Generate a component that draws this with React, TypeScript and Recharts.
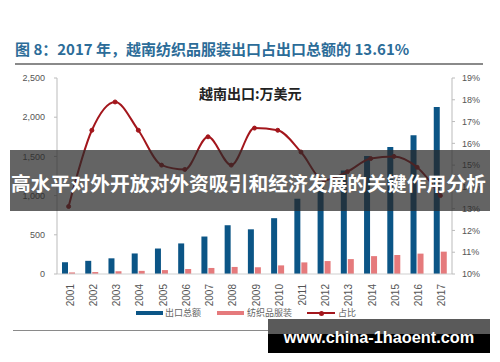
import React from 'react';
import { ComposedChart, Bar, Line, XAxis, YAxis } from 'recharts';

const years = ['2001','2002','2003','2004','2005','2006','2007','2008','2009','2010','2011','2012','2013','2014','2015','2016','2017'];
const totalExports = [150, 168, 200, 262, 325, 390, 478, 622, 570, 712, 960, 1145, 1320, 1505, 1620, 1770, 2130];
const textileExports = [20, 25, 35, 40, 50, 64, 77, 90, 86, 110, 148, 165, 190, 228, 242, 260, 285];
const shareRatio = [13.1, 16.6, 17.9, 16.6, 15.0, 14.8, 16.3, 15.0, 16.7, 16.6, 15.6, 14.3, 14.7, 15.3, 15.4, 14.9, 13.6];
const leftTicks = [0, 500, 1000, 1500, 2000, 2500];
const rightTicks = [10, 11, 12, 13, 14, 15, 16, 17, 18, 19];

const data = years.map((y, i) => ({ year: y, total: totalExports[i], textile: textileExports[i], ratio: shareRatio[i] }));

const BLUE = '#0b5586';
const PINK = '#e57a7c';
const RED = '#a3161c';
const SANS = '"Liberation Sans", Arial, sans-serif';
const CJK = '"Noto Sans CJK SC", "Noto Sans", sans-serif';

const XTick = (props: any) => {
  const { x, y, payload } = props;
  return (
    <text
      x={0}
      y={0}
      transform={`translate(${x + 1.5},${y + 2}) rotate(-90)`}
      textAnchor="end"
      dy="0.35em"
      fontSize={10}
      fill="#555"
      fontFamily={SANS}
    >
      {payload.value}
    </text>
  );
};

const fmtComma = (v: number) => v.toLocaleString('en-US');

export default function App() {
  return (
    <div style={{ position: 'absolute', left: 0, top: 0, width: 500, height: 362, background: '#fff', overflow: 'hidden' }}>
      <div style={{ position: 'absolute', left: 15, top: 38, fontFamily: CJK, fontWeight: 700, fontSize: 15, color: '#2c6c98', whiteSpace: 'nowrap', lineHeight: '22px' }}>
        图 8：2017 年，越南纺织品服装出口占出口总额的 13.61%
      </div>
      <div style={{ position: 'absolute', left: 15, top: 63, width: 468, height: 1.5, background: '#8a8a8a' }} />
      <ComposedChart
        width={500}
        height={362}
        data={data}
        margin={{ top: 78, right: 0, bottom: 58, left: 0 }}
        barGap={1}
        style={{ position: 'absolute', left: 0, top: 0 }}
      >
        <XAxis
          dataKey="year"
          height={30}
          interval={0}
          tick={<XTick />}
          tickLine={false}
          axisLine={{ stroke: '#cfcfcf' }}
        />
        <YAxis
          yAxisId="left"
          width={57}
          domain={[0, 2500]}
          ticks={leftTicks}
          tickFormatter={fmtComma}
          tick={{ fontSize: 9, fill: '#555', fontFamily: SANS }}
          tickSize={3}
          tickMargin={9}
          axisLine={{ stroke: '#bbb' }}
          tickLine={{ stroke: '#bbb' }}
        />
        <YAxis
          yAxisId="right"
          orientation="right"
          width={48}
          domain={[10, 19]}
          ticks={rightTicks}
          tickFormatter={(v: number) => `${v}%`}
          tick={{ fontSize: 9, fill: '#555', fontFamily: SANS, textAnchor: 'start' }}
          tickSize={3}
          tickMargin={7}
          axisLine={{ stroke: '#bbb' }}
          tickLine={{ stroke: '#bbb' }}
        />
        <Bar yAxisId="left" dataKey="total" fill={BLUE} barSize={6} isAnimationActive={false} />
        <Bar yAxisId="left" dataKey="textile" fill={PINK} barSize={6} isAnimationActive={false} />
        <Line
          yAxisId="right"
          type="monotone"
          dataKey="ratio"
          stroke={RED}
          strokeWidth={2}
          dot={{ r: 2, fill: RED, stroke: RED, strokeWidth: 1 }}
          isAnimationActive={false}
        />
      </ComposedChart>
      <div style={{ position: 'absolute', left: 199, top: 83, fontFamily: CJK, fontWeight: 700, fontSize: 14, color: '#222', whiteSpace: 'nowrap', lineHeight: '20px' }}>
        越南出口:万美元
      </div>
      {/* legend */}
      <div style={{ position: 'absolute', left: 136, top: 311, width: 27, height: 4, background: BLUE }} />
      <div style={{ position: 'absolute', left: 165, top: 306, fontFamily: CJK, fontSize: 9, color: '#666', lineHeight: '14px', whiteSpace: 'nowrap' }}>出口总额</div>
      <div style={{ position: 'absolute', left: 217, top: 311, width: 27, height: 4, background: PINK }} />
      <div style={{ position: 'absolute', left: 247, top: 306, fontFamily: CJK, fontSize: 9, color: '#666', lineHeight: '14px', whiteSpace: 'nowrap' }}>纺织品服装</div>
      <div style={{ position: 'absolute', left: 307, top: 312, width: 28, height: 2, background: RED }} />
      <div style={{ position: 'absolute', left: 318.5, top: 310.5, width: 5, height: 5, borderRadius: 3, background: RED }} />
      <div style={{ position: 'absolute', left: 338, top: 306, fontFamily: CJK, fontSize: 9, color: '#666', lineHeight: '14px', whiteSpace: 'nowrap' }}>占比</div>
      <div style={{ position: 'absolute', left: 13, top: 329.5, width: 470, height: 1.5, background: '#8a8a8a' }} />
      {/* banner */}
      <div style={{ position: 'absolute', left: 10, top: 150, width: 480, height: 61, background: 'rgba(40,40,40,0.72)' }} />
      <div style={{ position: 'absolute', left: 11, top: 168, width: 480, fontFamily: CJK, fontWeight: 700, fontSize: 19.8, color: '#fff', whiteSpace: 'nowrap', lineHeight: '30px' }}>
        高水平对外开放对外资吸引和经济发展的关键作用分析
      </div>
      {/* watermark */}
      <div style={{ position: 'absolute', left: 268, top: 319, width: 222, height: 34, background: 'linear-gradient(to bottom, #5a5a5a 0%, #5a5a5a 43%, #000 43%, #000 100%)' }} />
      <div style={{ position: 'absolute', left: 268, top: 324, width: 222, textAlign: 'center', fontFamily: SANS, fontWeight: 700, fontSize: 16.3, color: '#fff', whiteSpace: 'nowrap', lineHeight: '26px' }}>
        www.china-1haoent.com
      </div>
    </div>
  );
}
